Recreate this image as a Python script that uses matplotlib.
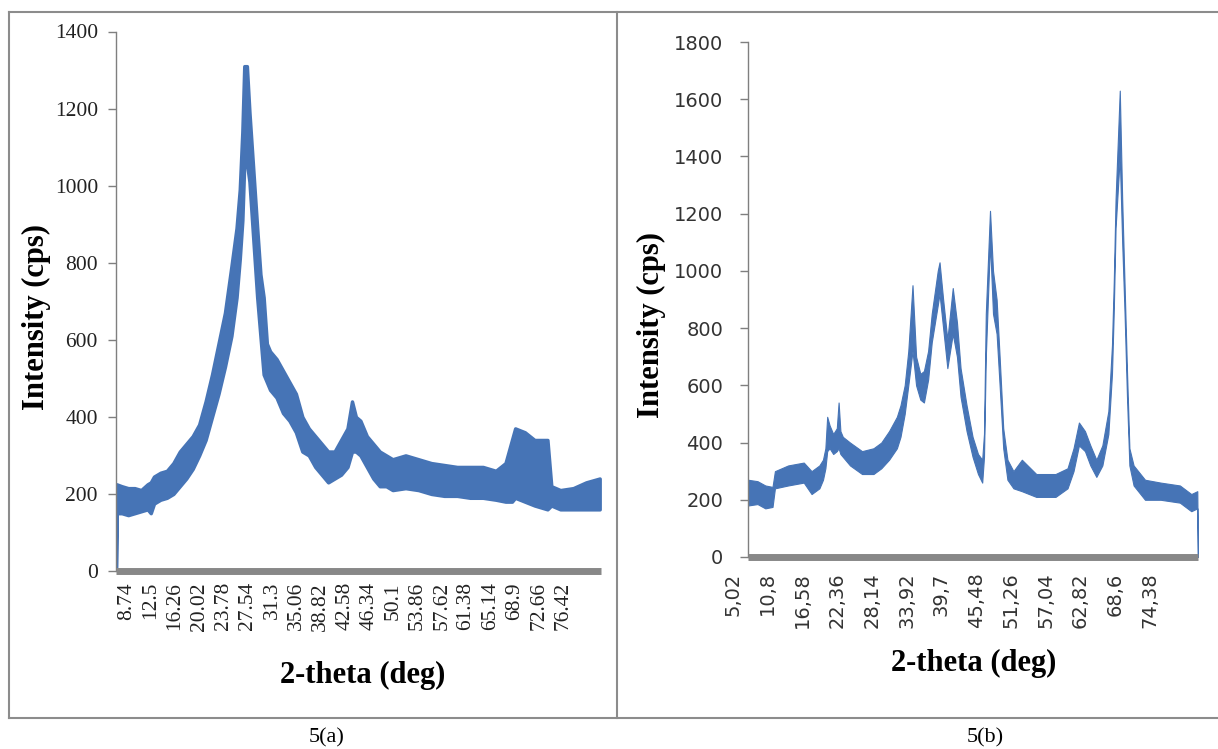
import numpy as np
import matplotlib
matplotlib.use('Agg')
import matplotlib.pyplot as plt
from matplotlib.lines import Line2D
from matplotlib.transforms import ScaledTranslation

# ---- data ----
# panel (a): 2-theta, lower / upper edge of the noisy band (cps)
theta_a = [7.10, 7.20, 8.0, 9.0, 10.0, 11.0, 12.0, 12.5, 13.0, 14.0, 15.0, 16.0,
           17.0, 18.0, 19.0, 20.0, 21.0, 22.0, 23.0, 24.0, 25.0, 25.8, 26.3, 26.7,
           27.0, 27.4, 27.8, 28.2, 28.6, 29.0, 29.5, 30.0, 30.5, 31.0, 32.0, 33.0,
           34.0, 35.0, 36.0, 37.0, 38.0, 39.0, 40.0, 41.0, 42.0, 43.0, 43.7, 44.3,
           45.0, 46.0, 47.0, 48.0, 49.0, 50.0, 52.0, 54.0, 56.0, 58.0, 60.0, 62.0,
           64.0, 66.0, 67.5, 68.5, 69.0, 70.5, 72.0, 74.0, 74.6, 76.0, 78.0, 80.0, 82.1]
low_a = [0, 150, 150, 145, 150, 155, 160, 150, 175, 185, 190, 200,
         220, 240, 265, 300, 340, 400, 460, 530, 610, 710, 810, 910,
         1060, 1060, 1010, 910, 810, 710, 610, 510, 490, 470, 450, 410,
         390, 360, 310, 300, 270, 250, 230, 240, 250, 270, 310, 310,
         300, 270, 240, 220, 220, 210, 215, 210, 200, 195, 195, 190,
         190, 185, 180, 180, 190, 180, 170, 160, 170, 160, 160, 160, 160]
high_a = [0, 225, 220, 215, 215, 210, 225, 230, 245, 255, 260, 280,
          310, 330, 350, 380, 440, 510, 590, 670, 790, 890, 990, 1140,
          1310, 1310, 1190, 1090, 990, 890, 770, 710, 590, 570, 550, 520,
          490, 460, 400, 370, 350, 330, 310, 310, 340, 370, 440, 400,
          390, 350, 330, 310, 300, 290, 300, 290, 280, 275, 270, 270,
          270, 260, 280, 340, 370, 360, 340, 340, 220, 210, 215, 230, 240]

# panel (b)
theta_b = [5.02, 6.6, 7.9, 9.1, 9.5, 11.7, 14.3, 15.6, 16.9, 17.5, 17.9, 18.2,
           18.6, 19.2, 19.8, 20.1, 20.4, 20.8, 22.0, 24.0, 25.9, 27.2, 28.5, 29.8,
           30.4, 31.1, 31.7, 32.4, 33.0, 33.7, 34.3, 35.0, 35.6, 36.6, 36.9, 37.5,
           38.2, 39.1, 39.8, 40.4, 41.4, 42.4, 43.3, 44.0, 44.3, 44.6, 45.3, 45.8,
           46.4, 46.9, 47.5, 48.2, 49.2, 50.6, 53.0, 56.2, 58.2, 59.2, 60.1, 61.1,
           62.0, 63.0, 64.0, 65.0, 65.6, 65.9, 66.2, 66.9, 67.3, 67.7, 68.1, 68.5,
           69.2, 71.1, 73.7, 76.9, 78.8, 79.8, 79.9]
low_b = [180, 185, 170, 175, 240, 250, 260, 220, 240, 270, 310, 370,
         380, 360, 370, 380, 360, 350, 320, 290, 290, 310, 340, 380,
         420, 500, 600, 720, 600, 550, 540, 620, 750, 880, 920, 800,
         660, 780, 700, 560, 440, 350, 290, 260, 350, 700, 1100, 850,
         780, 600, 380, 270, 240, 230, 210, 210, 240, 300, 390, 370,
         320, 280, 320, 430, 640, 860, 1150, 1400, 1100, 850, 560, 320,
         250, 200, 200, 190, 160, 170, 0]
high_b = [270, 265, 250, 245, 300, 320, 330, 300, 320, 340, 380, 490,
          460, 430, 450, 540, 440, 420, 400, 370, 380, 400, 440, 490,
          530, 600, 720, 950, 700, 640, 650, 720, 850, 1000, 1030, 900,
          760, 940, 820, 660, 530, 420, 360, 340, 430, 850, 1210, 1000,
          900, 700, 450, 340, 300, 340, 290, 290, 310, 380, 470, 440,
          390, 340, 390, 510, 740, 960, 1250, 1630, 1250, 950, 650, 380,
          320, 270, 260, 250, 220, 230, 0]

ticks_a = ['8.74', '12.5', '16.26', '20.02', '23.78', '27.54', '31.3', '35.06',
           '38.82', '42.58', '46.34', '50.1', '53.86', '57.62', '61.38', '65.14',
           '68.9', '72.66', '76.42']
ticks_b = ['5,02', '10,8', '16,58', '22,36', '28,14', '33,92', '39,7', '45,48',
           '51,26', '57,04', '62,82', '68,6', '74,38']

W, H = 1218, 749
blue = '#4674B6'
grey = '#888888'

fig = plt.figure(figsize=(W / 100, H / 100), dpi=100)
fig.patch.set_facecolor('white')


def frac(x0, x1, y0, y1):
    return [x0 / W, 1 - y1 / H, (x1 - x0) / W, (y1 - y0) / H]


def style(ax, ymax, tick_font, tick_size, tick_color, ypad, xpad, shift_px):
    ax.set_ylim(0, ymax)
    ax.set_yticks(range(0, ymax + 1, 200))
    for s in ['top', 'right']:
        ax.spines[s].set_visible(False)
    ax.spines['left'].set_color('#7f7f7f')
    ax.spines['left'].set_linewidth(1.0)
    ax.spines['bottom'].set_color(grey)
    ax.spines['bottom'].set_linewidth(5)
    ax.spines['bottom'].set_capstyle('butt')
    ax.tick_params(axis='y', direction='out', length=6, width=1, color='#7f7f7f',
                   labelsize=tick_size, labelcolor=tick_color, pad=ypad)
    ax.tick_params(axis='x', length=0, labelsize=tick_size, labelcolor=tick_color,
                   pad=xpad, labelrotation=90)
    for lab in ax.get_yticklabels() + ax.get_xticklabels():
        lab.set_fontfamily(tick_font)
    off = ScaledTranslation(shift_px / 100, 0, fig.dpi_scale_trans)
    for lab in ax.get_xticklabels():
        lab.set_transform(lab.get_transform() + off)


label_font = dict(fontfamily='Liberation Serif', fontweight='bold', fontsize=22)

# ---- panel (a) ----
ax1 = fig.add_axes(frac(116, 600.5, 31.5, 571))
ax1.fill_between(theta_a, low_a, high_a, color=blue, linewidth=2.5, edgecolor=blue)
ax1.set_xlim(7.11, 82.23)
pos_a = [float(t) for t in ticks_a]
ax1.set_xticks(pos_a)
ax1.set_xticklabels(ticks_a)
style(ax1, 1400, 'Liberation Serif', 15.5, '#222222', 7, 8, 0)
ax1.set_ylabel('Intensity (cps)', va='center', **label_font)
ax1.yaxis.set_label_coords(-0.165, 0.471)
ax1.set_xlabel('2-theta (deg)', va='center', **label_font)
ax1.xaxis.set_label_coords(0.509, -0.193)

# ---- panel (b) ----
ax2 = fig.add_axes(frac(748, 1198, 42, 557))
ax2.fill_between(theta_b, low_b, high_b, color=blue, linewidth=0.8, edgecolor=blue)
ax2.set_xlim(5.02, 79.92)
pos_b = [float(t.replace(',', '.')) for t in ticks_b]
ax2.set_xticks(pos_b)
ax2.set_xticklabels(ticks_b)
style(ax2, 1800, 'DejaVu Sans', 14, '#333333', 12, 11, -15)
ax2.set_ylabel('Intensity (cps)', va='center', **label_font)
ax2.yaxis.set_label_coords(-0.215, 0.45)
ax2.set_xlabel('2-theta (deg)', va='center', **label_font)
ax2.xaxis.set_label_coords(0.502, -0.206)

# ---- frame around the figure ----
def hline(y, x0, x1):
    fig.add_artist(Line2D([x0 / W, x1 / W], [1 - y / H, 1 - y / H],
                          color='#8c8c8c', linewidth=1.5))


def vline(x, y0, y1):
    fig.add_artist(Line2D([x / W, x / W], [1 - y0 / H, 1 - y1 / H],
                          color='#8c8c8c', linewidth=1.5))


hline(12, 9, W)
hline(718, 9, W)
vline(9, 12, 718)
vline(617, 12, 718)

fig.text(327 / W, 1 - 738 / H, '5(a)', fontfamily='Liberation Serif', fontsize=16,
         ha='center', va='center')
fig.text(985 / W, 1 - 738 / H, '5(b)', fontfamily='Liberation Serif', fontsize=16,
         ha='center', va='center')

fig.savefig('out.png', dpi=100)
